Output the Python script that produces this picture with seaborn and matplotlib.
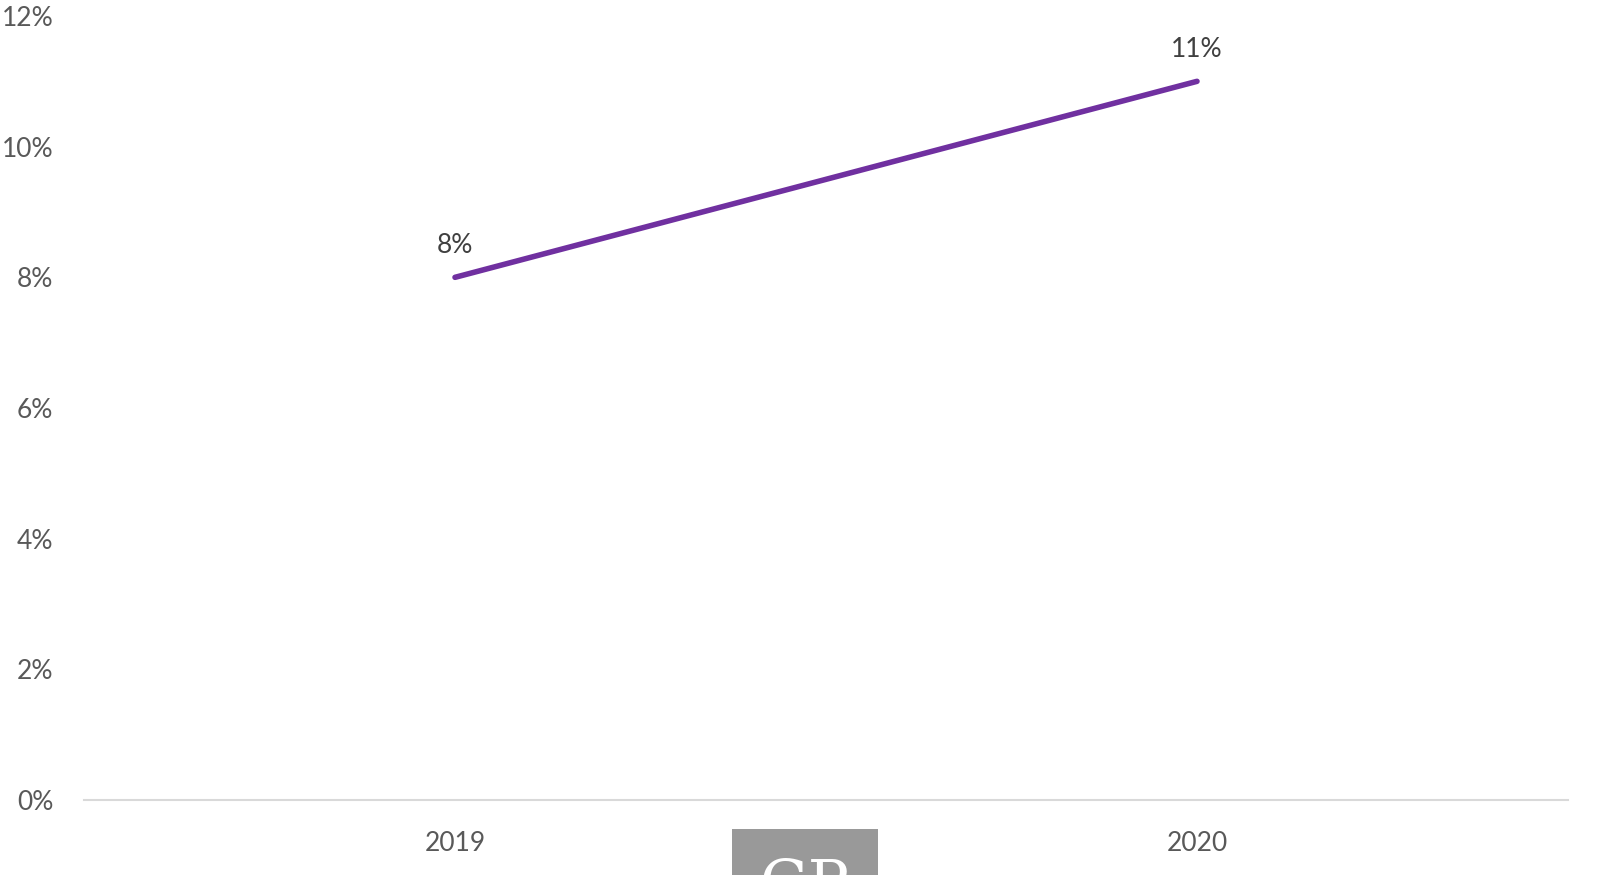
import pandas as pd
import numpy as np
import matplotlib
matplotlib.use('Agg')
import matplotlib.pyplot as plt
import seaborn as sns
from matplotlib.patches import Rectangle
from matplotlib.ticker import FuncFormatter

years = ['2019', '2020']
values = [8, 11]
y_ticks = [0, 2, 4, 6, 8, 10, 12]

sns.set_style('white')
plt.rcParams['font.family'] = ['Lato', 'DejaVu Sans']

df = pd.DataFrame({'year': years, 'value': values})

fig = plt.figure(figsize=(16.08, 8.75), dpi=100)
ax = fig.add_axes([84 / 1608, 75 / 875, 1484 / 1608, 784 / 875])

sns.lineplot(data=df, x='year', y='value', ax=ax, color='#7030A0',
             linewidth=4, solid_capstyle='round', sort=False)

for i, v in enumerate(values):
    ax.annotate(f'{v}%', (i, v), xytext=(0, 14), textcoords='offset points',
                ha='center', va='bottom', fontsize=19, color='#404040')

ax.set_xlim(-0.5, 1.5)
ax.set_ylim(0, 12)
ax.set_yticks(y_ticks)
ax.yaxis.set_major_formatter(FuncFormatter(lambda v, p: f'{v:.0f}%'))
ax.set_xlabel('')
ax.set_ylabel('')
ax.tick_params(axis='both', length=0, labelsize=19, labelcolor='#595959')
ax.tick_params(axis='y', pad=22)
ax.tick_params(axis='x', pad=22)
for s in ['top', 'right', 'left']:
    ax.spines[s].set_visible(False)
ax.spines['bottom'].set_color('#D9D9D9')
ax.spines['bottom'].set_linewidth(1.5)

# watermark box cut off at the bottom
box = Rectangle((732 / 1608, 0), 146 / 1608, 46 / 875, transform=fig.transFigure,
                facecolor='#999999', edgecolor='none', zorder=5)
fig.patches.append(box)
t = fig.text(805 / 1608, -42 / 875, 'GP', transform=fig.transFigure, ha='center',
             va='bottom', fontsize=44, color='white', family='DejaVu Serif', zorder=6)
t.set_clip_path(box)

fig.savefig('out.png', dpi=100)
